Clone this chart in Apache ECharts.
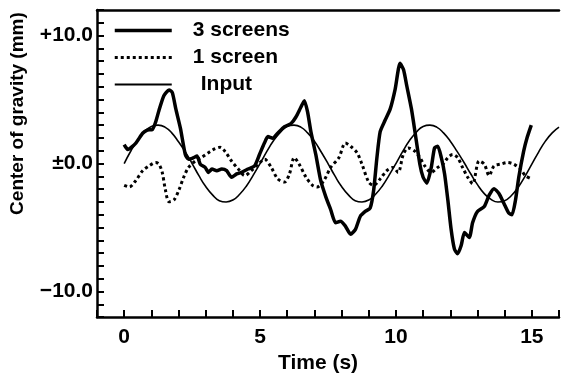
<!DOCTYPE html>
<html>
<head>
<meta charset="utf-8">
<script src="https://cdn.jsdelivr.net/npm/echarts@6/dist/echarts.min.js"></script>
<style>html,body{margin:0;padding:0;background:#fff;}#c{width:562px;height:379px;}</style>
</head>
<body>
<div id="c"></div>
<script>
const seriesNames = ['3 screens', '1 screen', 'Input'];

const threeT = [0,0.13,0.43,0.68,0.85,1.04,1.16,1.28,1.46,1.65,1.77,1.9,2.07,2.25,2.37,2.55,2.68,2.8,2.98,3.1,3.23,3.41,3.59,3.77,3.95,4.14,4.32,4.56,4.8,4.98,5.16,5.29,5.47,5.65,5.9,6.14,6.32,6.5,6.63,6.75,6.87,7.05,7.23,7.42,7.6,7.78,7.96,8.14,8.33,8.51,8.69,8.87,9.05,9.18,9.3,9.42,9.6,9.79,9.97,10.15,10.28,10.4,10.57,10.7,10.88,11.0,11.14,11.3,11.42,11.54,11.67,11.79,11.91,12.03,12.15,12.27,12.4,12.52,12.7,12.82,13.0,13.25,13.43,13.61,13.79,13.97,14.15,14.27,14.4,14.52,14.7,14.82,14.98];
const threeY = [1.48,1.1,1.6,2.37,2.62,2.67,3.26,4.15,5.3,5.75,5.55,4.27,2.75,0.71,0.33,0.46,0.59,-0.05,-0.3,-0.69,-0.43,-0.56,-0.43,-0.56,-1.07,-0.81,-0.69,-0.43,-0.18,0.71,1.6,2.11,1.98,2.37,2.88,3.13,3.64,4.4,4.91,4.02,2.49,0.71,-1.32,-2.6,-3.61,-4.63,-4.5,-4.89,-5.52,-5.14,-4.12,-3.74,-3.49,-2.09,0.46,2.49,3.38,4.27,5.8,7.84,7.33,6.06,4.27,2.49,-0.05,-1.07,-1.53,-0.3,1.22,1.35,0.46,-0.81,-2.85,-5.14,-6.67,-7.05,-6.41,-5.39,-5.78,-4.63,-3.74,-3.36,-2.47,-1.96,-2.34,-3.1,-3.87,-4.0,-2.85,-1.07,0.97,1.98,3.0];

const oneT = [0,0.19,0.43,0.68,0.92,1.16,1.28,1.4,1.52,1.65,1.83,2.01,2.19,2.37,2.62,2.86,3.1,3.29,3.53,3.71,3.95,4.2,4.44,4.68,4.93,5.17,5.41,5.65,5.9,6.08,6.26,6.44,6.69,6.93,7.1,7.35,7.6,7.9,8.14,8.33,8.57,8.75,9.0,9.18,9.42,9.66,9.9,10.08,10.27,10.45,10.69,10.88,11.06,11.3,11.54,11.73,11.91,12.09,12.27,12.45,12.64,12.82,13.06,13.25,13.43,13.61,13.85,14.1,14.34,14.58,14.76,15.0];
const oneY = [-1.7,-1.83,-1.32,-0.56,-0.18,0.08,-0.05,-0.69,-2.09,-2.98,-2.85,-2.09,-1.07,-0.3,0.2,0.5,0.85,1.1,1.27,0.95,0.2,-0.43,-0.94,-0.56,-0.05,0.33,-0.3,-1.2,-1.45,-0.81,0.46,-0.05,-1.07,-1.7,-1.83,-1.32,-0.3,0.46,1.6,1.35,0.84,-0.05,-1.45,-1.7,-1.2,-0.56,-0.3,-0.69,0.71,1.22,0.97,0.46,-0.18,-0.69,-0.3,-0.05,0.46,0.71,0.46,-0.3,-1.07,-1.58,0.2,-0.05,-0.94,-0.18,-0.05,0.08,-0.05,-0.43,-0.94,-1.2];

const inputT = [0,0.25,0.5,0.75,1,1.25,1.5,1.75,2,2.25,2.5,2.75,3,3.25,3.5,3.75,4,4.25,4.5,4.75,5,5.25,5.5,5.75,6,6.25,6.5,6.75,7,7.25,7.5,7.75,8,8.25,8.5,8.75,9,9.25,9.5,9.75,10,10.25,10.5,10.75,11,11.25,11.5,11.75,12,12.25,12.5,12.75,13,13.25,13.5,13.75,14,14.25,14.5,14.75,15,15.25,15.5,15.75,16];
const inputY = [0,1.0,1.85,2.5,2.9,3.0,2.85,2.4,1.7,0.9,0,-0.95,-1.8,-2.45,-2.9,-3.0,-2.85,-2.4,-1.75,-0.9,0,0.95,1.8,2.45,2.9,3.0,2.85,2.4,1.75,0.9,0,-0.95,-1.8,-2.45,-2.9,-3.0,-2.85,-2.4,-1.75,-0.9,0,0.95,1.8,2.45,2.9,3.0,2.85,2.4,1.75,0.95,0.1,-0.8,-1.65,-2.35,-2.8,-3.0,-2.9,-2.5,-1.85,-1.0,-0.05,0.9,1.75,2.4,2.85];

const xTickValues = [0, 5, 10, 15];
const xTickLabels = ['0', '5', '10', '15'];
const yTickValues = [-10, 0, 10];
const yTickLabels = ['\u221210.0', '\u00b10.0', '+10.0'];

function zip(t, y) { return t.map((v, i) => [v, y[i]]); }

const FONT = "'Liberation Sans', Arial, Helvetica, sans-serif";
const TXT = {fontFamily: FONT, fontSize: 21, fontWeight: 'bold', color: '#000'};
const chart = echarts.init(document.getElementById('c'), null, {renderer: 'canvas'});
chart.setOption({
  animation: false,
  backgroundColor: '#fff',
  textStyle: {fontFamily: FONT, color: '#000'},
  grid: {left: 97, right: -2, top: 10, bottom: 56, containLabel: false},
  legend: {
    orient: 'vertical', left: 113, top: 20, padding: 0, itemWidth: 57, itemHeight: 14, itemGap: 6,
    itemStyle: {opacity: 0},
    textStyle: Object.assign({}, TXT, {padding: [0, 0, 0, 16]}),
    data: [
      {name: seriesNames[0], lineStyle: {width: 3.5}},
      {name: seriesNames[1], lineStyle: {width: 3, type: [3, 3]}},
      {name: seriesNames[2], lineStyle: {width: 1.8}, textStyle: {padding: [0, 0, 0, 24]}}
    ],
    selectedMode: false
  },
  xAxis: [{
    type: 'value', min: -1, max: 16, interval: 1,
    name: 'Time (s)', nameLocation: 'middle', nameGap: 32,
    nameTextStyle: Object.assign({}, TXT, {padding: [0, 20, 0, 0]}),
    axisLine: {show: true, onZero: false, lineStyle: {color: '#000', width: 2.5}},
    axisTick: {show: true, inside: true, length: 7, lineStyle: {color: '#000', width: 2}},
    splitLine: {show: false},
    axisLabel: Object.assign({}, TXT, {margin: 10,
      formatter: v => { const i = xTickValues.indexOf(Math.round(v)); return i >= 0 ? xTickLabels[i] : ''; }})
  }, {
    type: 'value', min: -1, max: 16, position: 'top',
    axisLine: {show: true, onZero: false, lineStyle: {color: '#000', width: 2.5}},
    axisTick: {show: false}, axisLabel: {show: false}, splitLine: {show: false}
  }],
  yAxis: {
    type: 'value', min: -12, max: 12, interval: 1,
    name: 'Center of gravity (mm)', nameLocation: 'middle', nameGap: 70, nameRotate: 90,
    nameTextStyle: Object.assign({}, TXT, {fontSize: 19, padding: [0, 0, 0, 100]}),
    axisLine: {show: true, onZero: false, lineStyle: {color: '#000', width: 2.5}},
    axisTick: {show: true, inside: true, length: 7, lineStyle: {color: '#000', width: 2}},
    splitLine: {show: false},
    axisLabel: Object.assign({}, TXT, {margin: 4,
      formatter: v => { const i = yTickValues.indexOf(Math.round(v)); return i >= 0 ? yTickLabels[i] : ''; }})
  },
  series: [
    {name: seriesNames[0], type: 'line', data: zip(threeT, threeY), symbol: 'none', smooth: 0.2,
     lineStyle: {color: '#000', width: 3.5}, itemStyle: {color: '#000'}, z: 3},
    {name: seriesNames[1], type: 'line', data: zip(oneT, oneY), symbol: 'none', smooth: 0.3,
     lineStyle: {color: '#000', width: 3, type: [3, 3]}, itemStyle: {color: '#000'}, z: 2},
    {name: seriesNames[2], type: 'line', data: zip(inputT, inputY), symbol: 'none', smooth: true,
     lineStyle: {color: '#000', width: 1.6}, itemStyle: {color: '#000'}, z: 1}
  ]
});
</script>
</body>
</html>
